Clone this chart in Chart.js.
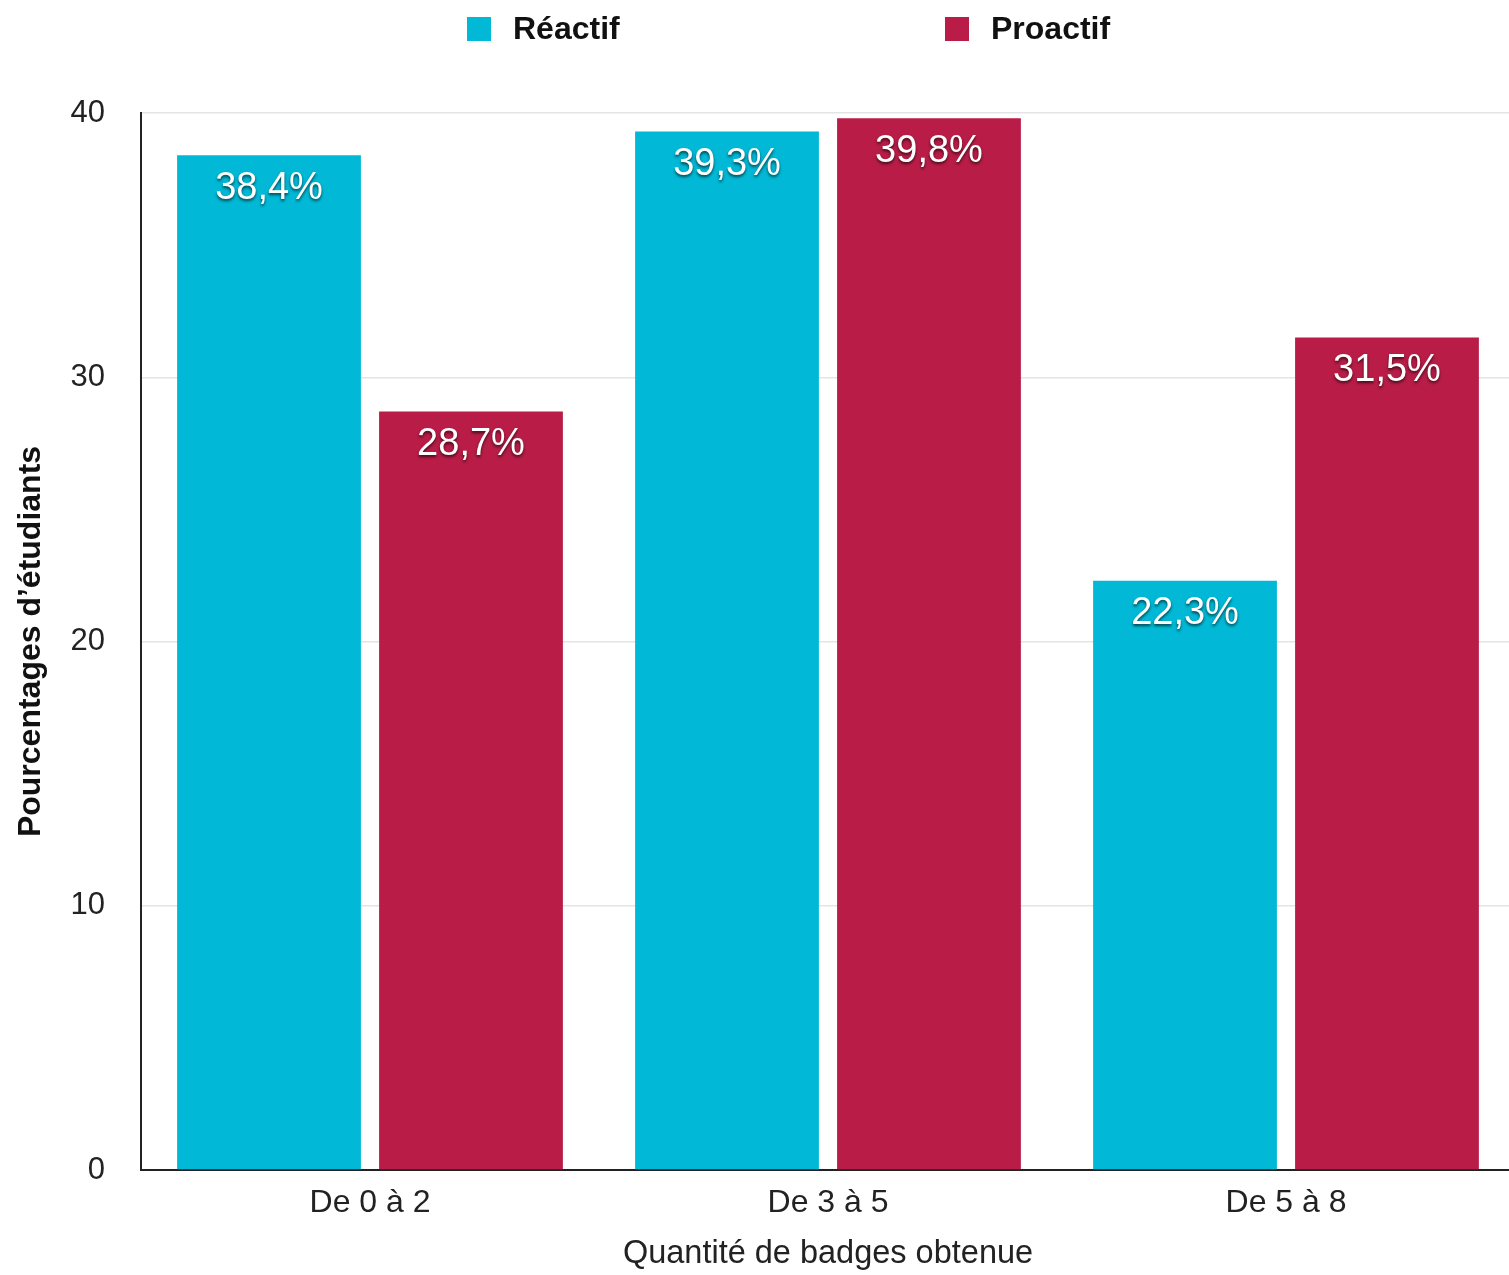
<!DOCTYPE html>
<html>
<head>
<meta charset="utf-8">
<script src="https://cdn.jsdelivr.net/npm/chart.js@4/dist/chart.umd.min.js"></script>
<style>
  html, body { margin: 0; padding: 0; background: #fff; overflow: hidden; width: 1509px; height: 1275px; }
  #wrap { width: 1515px; height: 1275px; position: relative; }
</style>
</head>
<body>
<div id="wrap"><canvas id="c"></canvas></div>
<script>
const categories = ["De 0 à 2", "De 3 à 5", "De 5 à 8"];
const seriesNames = ["Réactif", "Proactif"];
const reactifValues = [38.4, 39.3, 22.3];
const proactifValues = [28.7, 39.8, 31.5];
const yTicks = [0, 10, 20, 30, 40];
const colors = ["#01b9d6", "#b91d47"];

const FONT = "'Liberation Sans', Arial, Helvetica, sans-serif";

const legendPlugin = {
  id: 'customLegend',
  afterDraw(chart) {
    const ctx = chart.ctx;
    const positions = [467, 945];
    ctx.save();
    chart.data.datasets.forEach((ds, i) => {
      const x = positions[i];
      ctx.fillStyle = ds.backgroundColor;
      ctx.fillRect(x, 17, 24, 24);
      ctx.fillStyle = '#111';
      ctx.font = "bold 32px " + FONT;
      ctx.textBaseline = 'middle';
      ctx.textAlign = 'left';
      ctx.fillText(ds.label, x + 46, 30);
    });
    ctx.restore();
  }
};

const labelPlugin = {
  id: 'barLabels',
  afterDatasetsDraw(chart) {
    const ctx = chart.ctx;
    ctx.save();
    ctx.font = "38px " + FONT;
    ctx.textAlign = 'center';
    ctx.textBaseline = 'middle';
    chart.data.datasets.forEach((ds, di) => {
      const meta = chart.getDatasetMeta(di);
      meta.data.forEach((bar, i) => {
        const txt = ds.data[i].toFixed(1).replace('.', ',') + '%';
        ctx.shadowColor = 'rgba(0,0,0,0.65)';
        ctx.shadowBlur = 3;
        ctx.shadowOffsetX = 0;
        ctx.shadowOffsetY = 2;
        ctx.fillStyle = '#ffffff';
        ctx.fillText(txt, bar.x, bar.y + 33);
      });
    });
    ctx.restore();
  }
};

new Chart(document.getElementById('c'), {
  type: 'bar',
  data: {
    labels: categories,
    datasets: [
      { label: seriesNames[0], data: reactifValues, backgroundColor: colors[0] },
      { label: seriesNames[1], data: proactifValues, backgroundColor: colors[1] }
    ]
  },
  options: {
    responsive: true,
    maintainAspectRatio: false,
    animation: false,
    categoryPercentage: 0.882,
    barPercentage: 0.91,
    layout: { padding: { top: 113, right: 0, bottom: 0, left: 0 } },
    plugins: {
      legend: { display: false },
      tooltip: { enabled: false }
    },
    scales: {
      x: {
        grid: { display: false, drawTicks: false },
        border: { color: '#222', width: 2 },
        ticks: { color: '#222', font: { family: FONT, size: 32 }, padding: 14 },
        title: { display: true, text: 'Quantité de badges obtenue', color: '#222',
                 font: { family: FONT, size: 32.5 }, padding: { top: 0, bottom: 1 } },
        afterFit(scale) { scale.height = 105; }
      },
      y: {
        min: 0, max: 40,
        afterBuildTicks(scale) { scale.ticks = yTicks.map(v => ({ value: v })); },
        grid: { color: '#e4e4e4', lineWidth: 1.5, drawTicks: false },
        border: { color: '#222', width: 2 },
        ticks: { color: '#222', font: { family: FONT, size: 31 }, padding: 36 },
        title: { display: true, text: 'Pourcentages d’étudiants', color: '#111',
                 font: { family: FONT, size: 32, weight: 'bold' }, padding: { top: 12, bottom: 0 } },
        afterFit(scale) { scale.width = 141; }
      }
    }
  },
  plugins: [legendPlugin, labelPlugin]
});
</script>
</body>
</html>
